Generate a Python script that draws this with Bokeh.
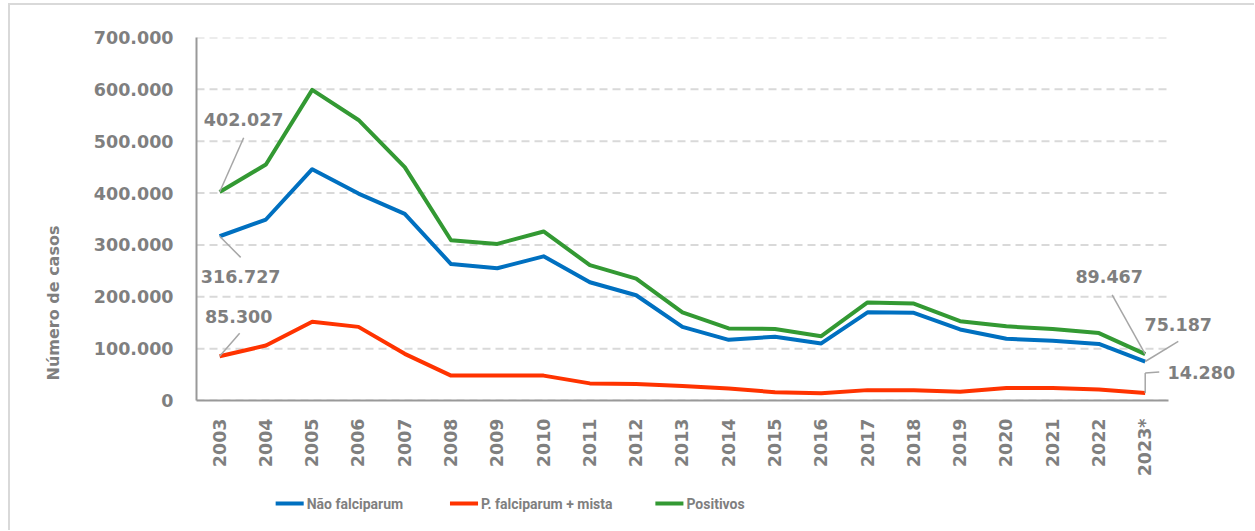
import math
from bokeh.plotting import figure
from bokeh.layouts import column
from bokeh.models import (Range1d, ColumnDataSource, Title, LabelSet, Arrow, FixedTicker)
from bokeh.core.properties import value
from bokeh.embed import file_html
from bokeh.resources import INLINE

# ---------------- data ----------------
years = ["2003", "2004", "2005", "2006", "2007", "2008", "2009", "2010", "2011", "2012",
         "2013", "2014", "2015", "2016", "2017", "2018", "2019", "2020", "2021", "2022", "2023*"]
nao_falciparum = [316727, 349000, 446000, 399000, 360000, 263000, 255000, 278000, 228000, 203000,
                  142000, 117000, 123000, 110000, 170000, 169000, 137000, 119000, 115000, 109000, 75187]
falciparum_mista = [85300, 106000, 152000, 142000, 90000, 48000, 48000, 48000, 33000, 32000,
                    28000, 23000, 16000, 14000, 20000, 20000, 17000, 24000, 24000, 21000, 14280]
positivos = [402027, 455000, 599000, 541000, 450000, 309000, 302000, 326000, 261000, 235000,
             170000, 139000, 138000, 124000, 189000, 187000, 153000, 143000, 138000, 130000, 89467]
series_names = ["Não falciparum", "P. falciparum + mista", "Positivos"]
y_ticks = [0, 100000, 200000, 300000, 400000, 500000, 600000, 700000]
y_tick_labels = ["0", "100.000", "200.000", "300.000", "400.000", "500.000", "600.000", "700.000"]
y_title = "Número de casos"

# ---------------- style / layout ----------------
GREY = "#7f7f7f"
COLORS = ["#0070C0", "#FF3300", "#339933"]
FONT = "DejaVu Sans"
MT = 3                              # top margin of the chart box
OX, OY = 10, MT + 2                 # canvas origin on the page (margin + border)
CW = 1244                           # canvas width
AX_L, AX_R, AX_T, AX_B = 196, 1166, 37, 398   # axis box on the page
FR_PAGE = 1245                      # frame extends right to hold the end labels
FL, FR, FT, FB = AX_L - OX, FR_PAGE - OX, AX_T - OY, AX_B - OY
BOTTOM = 80                         # room for the rotated year labels
LF_TOP = OY + FB + BOTTOM           # page y where the legend strip starts
LEG_H = 530 - LF_TOP                # height of the legend strip
LEG_X = [275, 449, 654]             # legend key starts on the page
LEG_Y = 503                         # legend row centre on the page
KEY_W, KEY_GAP = 28, 3
YMAX = 700000
N = len(years)
BAND = (AX_R - AX_L) / N
PX_Y = (AX_B - AX_T) / YMAX
XSTART = -0.5
XEND = XSTART + (FR - FL) / BAND
xs = list(range(N))

p = figure(frame_width=FR - FL, frame_height=FB - FT, x_range=Range1d(XSTART, XEND),
           y_range=Range1d(0, YMAX), output_backend="svg", toolbar_location=None,
           min_border_left=FL, min_border_right=CW - FR, min_border_top=FT,
           min_border_bottom=BOTTOM,
           styles={"border-left": "2px solid #d9d9d9", "border-top": "2px solid #d9d9d9",
                   "margin-left": "8px", "margin-top": f"{MT}px"})
p.outline_line_color = None
p.background_fill_color = "white"
p.border_fill_color = "white"

# axes
p.xaxis.ticker = FixedTicker(ticks=xs)
p.xaxis.major_label_overrides = {i: y for i, y in zip(xs, years)}
p.xaxis.bounds = (XSTART, N - 0.5)
p.yaxis.ticker = FixedTicker(ticks=y_ticks)
p.yaxis.major_label_overrides = {t: l for t, l in zip(y_ticks, y_tick_labels)}
for ax in (p.xaxis[0], p.yaxis[0]):
    ax.major_tick_line_color = None
    ax.minor_tick_line_color = None
    ax.major_tick_out = 0
    ax.major_tick_in = 0
    ax.axis_line_color = "#999999"
    ax.axis_line_width = 2
    ax.major_label_text_color = GREY
    ax.major_label_text_font = FONT
    ax.major_label_text_font_style = "bold"
    ax.major_label_text_font_size = "17.5px"
p.yaxis.major_label_standoff = 23
p.xaxis.major_label_standoff = 18
p.xaxis.major_label_orientation = math.pi / 2

# horizontal grid lines limited to the category span
p.xgrid.visible = False
p.ygrid.visible = False
p.segment(x0=[XSTART] * len(y_ticks), x1=[N - 0.5] * len(y_ticks), y0=y_ticks, y1=y_ticks,
          line_color="#d9d9d9", line_width=2, line_dash="8 5", level="underlay")

# lines
for vals, col in zip([nao_falciparum, falciparum_mista, positivos], COLORS):
    p.line(x=xs, y=vals, line_color=col, line_width=4, line_join="round")

# y title
p.add_layout(Title(text=y_title, align="left", offset=20, standoff=56, text_font=FONT,
                   text_font_style="bold", text_font_size="16px", text_color=GREY), "left")

# data labels: (series, year index, text dx, text dy, leader path) in screen px, y down
series_vals = [nao_falciparum, falciparum_mista, positivos]
label_specs = [
    (2, 0, 24, -72, [(0, 0), (24, -54)]),
    (0, 0, 21, 40, [(0, 0), (21, 21)]),
    (1, 0, 19, -40, [(0, 0), (20, -23)]),
    (2, 20, -36, -77, [(0, 0), (-33, -59)]),
    (0, 20, 33, -37, [(0, 0), (33, -20)]),
    (1, 20, 56, -20, [(0, 0), (0, -20), (14, -21)]),
]

def to_data(i, v, dx, dy):
    return i + dx / BAND, v - dy / PX_Y

lx, ly, lt = [], [], []
x0s, y0s, x1s, y1s = [], [], [], []
for s, i, tdx, tdy, path in label_specs:
    v = series_vals[s][i]
    x, y = to_data(i, v, tdx, tdy)
    lx.append(x); ly.append(y); lt.append(f"{v:,}".replace(",", "."))
    for (a0, b0), (a1, b1) in zip(path[:-1], path[1:]):
        a, b = to_data(i, v, a0, b0)
        c, d = to_data(i, v, a1, b1)
        x0s.append(a); y0s.append(b); x1s.append(c); y1s.append(d)

lead_src = ColumnDataSource(dict(x0=x0s, y0=y0s, x1=x1s, y1=y1s))
p.add_layout(Arrow(end=None, x_start="x0", y_start="y0", x_end="x1", y_end="y1",
                   source=lead_src, line_color="#a6a6a6", line_width=1.5))
lab_src = ColumnDataSource(dict(x=lx, y=ly, t=lt))
p.add_layout(LabelSet(x="x", y="y", text="t", source=lab_src, text_align="center",
                      text_baseline="middle", text_font=value(FONT), text_font_style="bold",
                      text_font_size="17.5px", text_color=GREY))

# ---------------- legend strip below the chart (frame aligned with the chart's frame) ----------------
lf = figure(frame_width=FR - FL, frame_height=LEG_H, x_range=Range1d(0, FR - FL),
            y_range=Range1d(0, LEG_H),
            output_backend="svg", toolbar_location=None, title_location=None,
            x_axis_location=None, y_axis_location=None,
            min_border_left=FL, min_border_right=CW - FR, min_border_top=0, min_border_bottom=0,
            styles={"border-left": "2px solid #d9d9d9", "margin-left": "8px"})
lf.outline_line_color = None
lf.xgrid.visible = False
lf.ygrid.visible = False
ky = LEG_H - (LEG_Y - LF_TOP)
kx0 = [x - AX_L for x in LEG_X]
lf.segment(x0=kx0, x1=[x + KEY_W for x in kx0], y0=[ky] * 3, y1=[ky] * 3,
           line_color=COLORS, line_width=4)
lf.text(x=[x + KEY_W + KEY_GAP for x in kx0], y=[ky] * 3, text=series_names,
        text_font=value("Roboto"), text_font_style="bold", text_font_size="14px",
        text_color=GREY, text_baseline="middle", text_align="left")

layout = column(p, lf, spacing=0)
open("out.html", "w").write(file_html(layout, INLINE))
